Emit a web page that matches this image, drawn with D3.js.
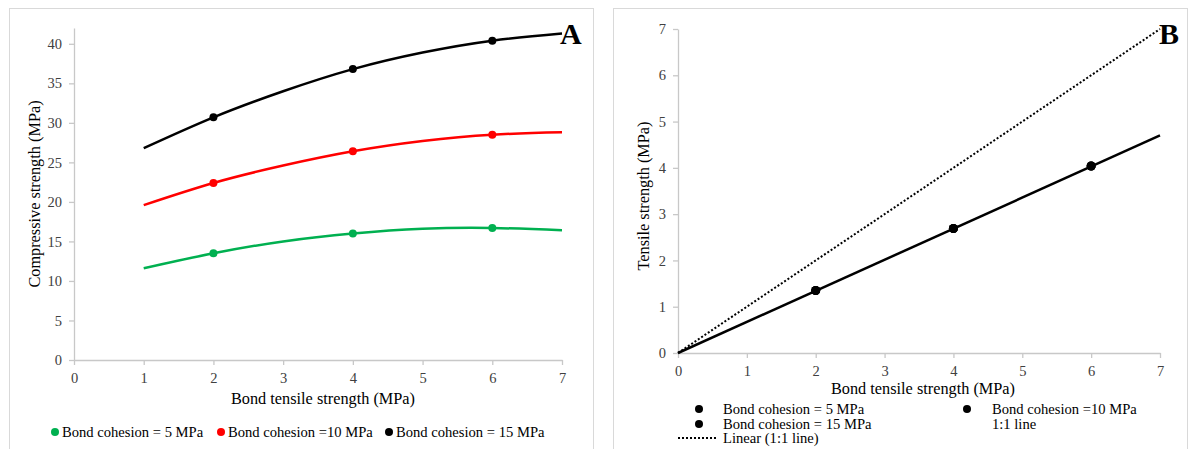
<!DOCTYPE html>
<html><head><meta charset="utf-8">
<script src="https://cdn.jsdelivr.net/npm/d3@7"></script>
<style>
body{margin:0;background:#fff;}
svg, svg text{font-family:"Liberation Serif","DejaVu Serif",serif !important;}
</style></head>
<body><svg id="c" width="1193" height="449"></svg>
<script>
// ---- Panel A data ----
const xTicksA = [0,1,2,3,4,5,6,7];
const yTicksA = [0,5,10,15,20,25,30,35,40];
const trendX = [1,2,3,4,5,6,7];
const trend5 = [11.6,13.5,15.0,16.0,16.6,16.7,16.4];
const trend10 = [19.6,22.4,24.6,26.4,27.7,28.5,28.8];
const trend15 = [26.8,30.7,34.0,36.8,38.9,40.4,41.3];
const pointX = [2,4,6];
const pts5 = [13.5,16.0,16.7];
const pts10 = [22.4,26.4,28.5];
const pts15 = [30.7,36.8,40.4];
const seriesNamesA = ["Bond cohesion = 5 MPa","Bond cohesion =10 MPa","Bond cohesion = 15 MPa"];
const colorsA = ["#00B050","#FF0000","#000000"];

// ---- Panel B data ----
const xTicksB = [0,1,2,3,4,5,6,7];
const yTicksB = [0,1,2,3,4,5,6,7];
const fitX = [0,7];
const fitY = [0,4.7];
const bPointX = [2,4,6];
const bPts5 = [1.35,2.69,4.04];
const bPts10 = [1.35,2.69,4.04];
const bPts15 = [1.35,2.69,4.04];
const lineX = [0,7];
const lineY = [0,7];

const FONT = "'Liberation Serif','DejaVu Serif',serif";
const svg = d3.select("#c");
const axisCol = "#c8c8c8", textCol = "#404040";

// panel frames
svg.append("rect").attr("x",9.5).attr("y",8.5).attr("width",584).attr("height",460)
  .attr("fill","none").attr("stroke","#d9d9d9");
svg.append("rect").attr("x",613.5).attr("y",8.5).attr("width",574).attr("height",460)
  .attr("fill","none").attr("stroke","#d9d9d9");

function styleAxis(g){
  g.attr("font-family",null);
  g.select(".domain").attr("stroke",axisCol).attr("stroke-width",1.3);
  g.selectAll(".tick line").attr("stroke",axisCol).attr("stroke-width",1.3);
  g.selectAll(".tick text").attr("fill",textCol).attr("font-size",14.5)
    .style("font-family",FONT);
}
function txt(x,y,s,size){
  return svg.append("text").attr("x",x).attr("y",y).attr("font-size",size)
    .style("font-family",FONT).attr("fill","#000").text(s);
}

// ===== Panel A =====
const xA = d3.scaleLinear().domain([0,7]).range([74,562]);
const yA = d3.scaleLinear().domain([0,42]).range([360,28]);
const gxA = svg.append("g").attr("transform","translate(0,360)")
  .call(d3.axisBottom(xA).tickValues(xTicksA).tickFormat(d3.format("d")).tickSize(5).tickSizeOuter(0).tickPadding(8));
styleAxis(gxA);
const gyA = svg.append("g").attr("transform","translate(74,0)")
  .call(d3.axisLeft(yA).tickValues(yTicksA).tickFormat(d3.format("d")).tickSize(5).tickSizeOuter(0).tickPadding(7));
styleAxis(gyA);

const lineGenA = d3.line().x((d,i)=>xA(trendX[i])).y(d=>yA(d)).curve(d3.curveNatural);
[trend5,trend10,trend15].forEach((t,k)=>{
  svg.append("path").attr("d",lineGenA(t)).attr("fill","none")
    .attr("stroke",colorsA[k]).attr("stroke-width",2.5);
});
[pts5,pts10,pts15].forEach((p,k)=>{
  svg.append("g").selectAll("circle").data(p).join("circle")
    .attr("cx",(d,i)=>xA(pointX[i])).attr("cy",d=>yA(d)).attr("r",4)
    .attr("fill",colorsA[k]);
});

txt(323,404,"Bond tensile strength (MPa)",16.3).attr("text-anchor","middle");
svg.append("text").attr("transform","translate(40,194) rotate(-90)").attr("text-anchor","middle")
  .attr("font-size",16.3).style("font-family",FONT).attr("fill","#000").text("Compressive strength (MPa)");
txt(560,44,"A",30).attr("font-weight","bold");

// legend A
const legA = [{x:55},{x:221},{x:389}];
legA.forEach((l,k)=>{
  svg.append("circle").attr("cx",l.x).attr("cy",432).attr("r",4).attr("fill",colorsA[k]);
  txt(l.x+7,437,seriesNamesA[k],14.6);
});

// ===== Panel B =====
const xB = d3.scaleLinear().domain([0,7]).range([678,1160]);
const yB = d3.scaleLinear().domain([0,7]).range([353,29]);
const gxB = svg.append("g").attr("transform","translate(0,353)")
  .call(d3.axisBottom(xB).tickValues(xTicksB).tickFormat(d3.format("d")).tickSize(5).tickSizeOuter(0).tickPadding(8));
styleAxis(gxB);
const gyB = svg.append("g").attr("transform","translate(678,0)")
  .call(d3.axisLeft(yB).tickValues(yTicksB).tickFormat(d3.format("d")).tickSize(5).tickSizeOuter(0).tickPadding(7));
styleAxis(gyB);

const lgB = d3.line().x((d,i)=>xB(lineX[i])).y(d=>yB(d));
svg.append("path").attr("d",lgB(lineY)).attr("fill","none").attr("stroke","#000")
  .attr("stroke-width",2).attr("stroke-dasharray","2,2");
const fgB = d3.line().x((d,i)=>xB(fitX[i])).y(d=>yB(d));
svg.append("path").attr("d",fgB(fitY)).attr("fill","none").attr("stroke","#000")
  .attr("stroke-width",2.5);
[bPts5,bPts10,bPts15].forEach(p=>{
  svg.append("g").selectAll("circle").data(p).join("circle")
    .attr("cx",(d,i)=>xB(bPointX[i])).attr("cy",d=>yB(d)).attr("r",4.5).attr("fill","#000");
});

txt(923,394,"Bond tensile strength (MPa)",16.3).attr("text-anchor","middle");
svg.append("text").attr("transform","translate(649,196) rotate(-90)").attr("text-anchor","middle")
  .attr("font-size",16.3).style("font-family",FONT).attr("fill","#000").text("Tensile strength (MPa)");
txt(1159,44,"B",30).attr("font-weight","bold");

// legend B
const legB = [
  {dx:699, tx:723, y:409, t:"Bond cohesion = 5 MPa", m:"dot"},
  {dx:967, tx:992, y:409, t:"Bond cohesion =10 MPa", m:"dot"},
  {dx:699, tx:723, y:424, t:"Bond cohesion = 15 MPa", m:"dot"},
  {dx:null, tx:992, y:424, t:"1:1 line", m:"none"},
  {dx:null, tx:723, y:438, t:"Linear (1:1 line)", m:"dash"}
];
legB.forEach(l=>{
  if(l.m==="dot") svg.append("circle").attr("cx",l.dx).attr("cy",l.y).attr("r",4).attr("fill","#000");
  if(l.m==="dash") svg.append("line").attr("x1",678).attr("x2",716).attr("y1",l.y).attr("y2",l.y)
    .attr("stroke","#000").attr("stroke-width",2).attr("stroke-dasharray","2,2");
  txt(l.tx,l.y+4.5,l.t,14.6);
});
</script></body></html>
